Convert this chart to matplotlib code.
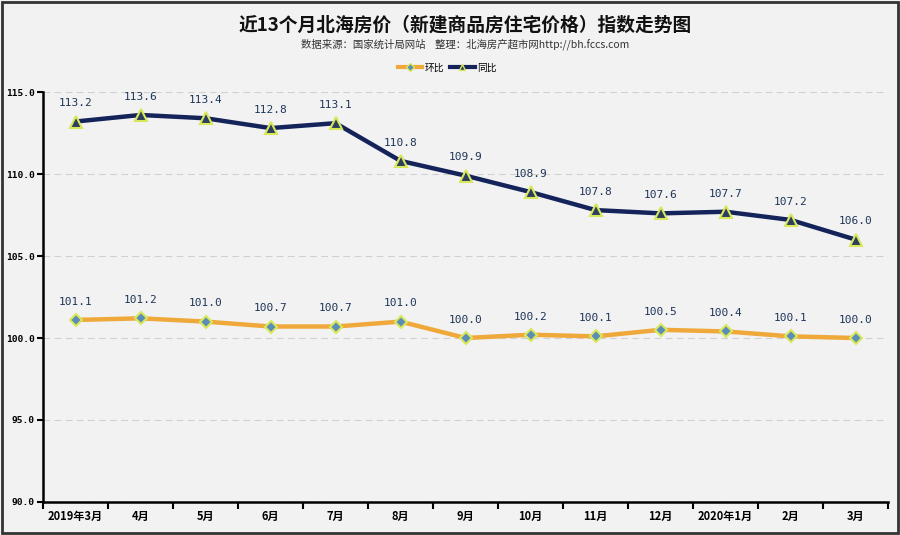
import matplotlib
matplotlib.use("Agg")
import matplotlib.pyplot as plt
from matplotlib.lines import Line2D
from matplotlib.patches import Rectangle
import numpy as np

plt.rcParams['font.family'] = ['Noto Sans CJK SC', 'DejaVu Sans']

categories = ["2019年3月", "4月", "5月", "6月", "7月", "8月", "9月", "10月", "11月", "12月", "2020年1月", "2月", "3月"]
huanbi = [101.1, 101.2, 101.0, 100.7, 100.7, 101.0, 100.0, 100.2, 100.1, 100.5, 100.4, 100.1, 100.0]
tongbi = [113.2, 113.6, 113.4, 112.8, 113.1, 110.8, 109.9, 108.9, 107.8, 107.6, 107.7, 107.2, 106.0]
yticks = [90.0, 95.0, 100.0, 105.0, 110.0, 115.0]

title = "近13个月北海房价（新建商品房住宅价格）指数走势图"
subtitle = "数据来源：国家统计局网站    整理：北海房产超市网http://bh.fccs.com"

bg = "#f2f2f2"
navy = "#14245a"
orange = "#eea93a"
label_col = "#1f3558"

fig = plt.figure(figsize=(9, 5.35), dpi=100, facecolor=bg)
ax = fig.add_axes([0.0478, 0.0617, 0.9389, 0.7663], facecolor=bg)

x = np.arange(len(categories))
ax.plot(x, tongbi, color=navy, lw=3.2, marker='^', ms=8, mfc="#2d3f5e",
        mec="#d8e85a", mew=1.5, zorder=4, solid_capstyle='round')
ax.plot(x, huanbi, color=orange, lw=3.2, marker='D', ms=6.5, mfc="#5b8db8",
        mec="#d8e85a", mew=1.5, zorder=4, solid_capstyle='round')

for series in (tongbi, huanbi):
    for xi, v in zip(x, series):
        ax.annotate(f"{v:.1f}", (xi, v), xytext=(0, 9.5), textcoords='offset points',
                    ha='center', va='bottom', fontsize=8, color=label_col,
                    family='DejaVu Sans Mono')

ax.set_xlim(-0.5, len(categories) - 0.5)
ax.set_ylim(90, 115)
ax.set_yticks(yticks)
ax.set_yticklabels([f"{t:.1f}" for t in yticks], fontsize=6.8, fontweight='bold', family='DejaVu Sans Mono')
ax.set_xticks(x)
ax.set_xticklabels(categories, fontsize=8, fontweight='bold')
ax.set_xticks(np.arange(-0.5, len(categories)), minor=True)
ax.tick_params(axis='x', which='major', length=0, pad=6)
ax.tick_params(axis='x', which='minor', length=5, width=1.5, direction='out')
ax.tick_params(axis='y', length=4, width=1.5, direction='out', pad=2)
ax.yaxis.grid(True, color='#d0d0d0', ls=(0, (6, 4)), lw=0.8)
ax.set_axisbelow(True)
for s in ['top', 'right']:
    ax.spines[s].set_visible(False)
for s in ['left', 'bottom']:
    ax.spines[s].set_linewidth(1.8)
    ax.spines[s].set_color('black')

fig.text(0.517, 1 - 25 / 535, title, ha='center', va='center', fontsize=13.5, fontweight='bold', color='#111111')
fig.text(0.517, 1 - 44 / 535, subtitle, ha='center', va='center', fontsize=7.5, color='#333333')

handles = [Line2D([], [], color=orange, lw=3, marker='D', ms=4, mfc="#5b8db8", mec="#d8e85a"),
           Line2D([], [], color=navy, lw=3, marker='^', ms=5, mfc="#2d3f5e", mec="#d8e85a")]
fig.legend(handles, ["环比", "同比"], loc='center', bbox_to_anchor=(0.497, 1 - 67.5 / 535),
           ncol=2, frameon=False, fontsize=7, handlelength=2.5, columnspacing=0.6,
           handletextpad=0.3)

fig.add_artist(Rectangle((0.002, 0.003), 0.996, 0.994, transform=fig.transFigure,
                         fill=False, ec='#333333', lw=2))

fig.savefig("out.png", dpi=100, facecolor=bg)
